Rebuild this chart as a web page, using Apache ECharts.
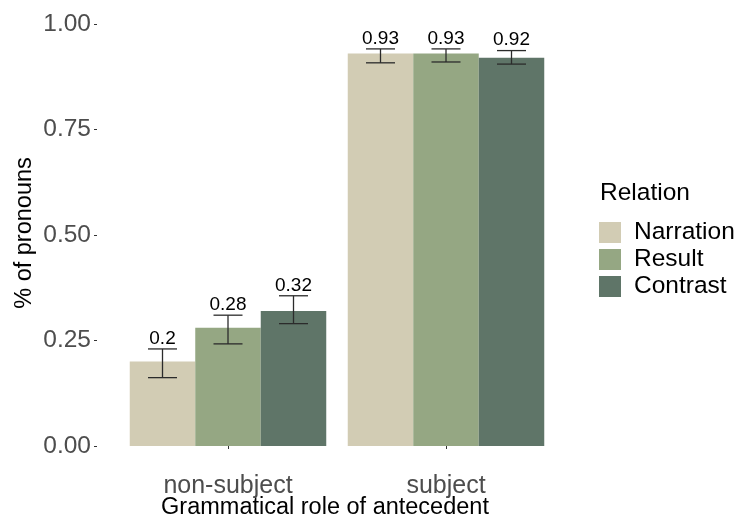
<!DOCTYPE html>
<html>
<head>
<meta charset="utf-8">
<script src="https://cdn.jsdelivr.net/npm/echarts@6/dist/echarts.min.js"></script>
<style>
  html, body { margin: 0; padding: 0; background: #ffffff; }
  #chart { width: 743px; height: 521px; }
</style>
</head>
<body>
<div id="chart"></div>
<script>
// Grammatical role of the antecedent on the x axis
const categories = ['non-subject', 'subject'];
const relations = ['Narration', 'Result', 'Contrast'];
const relationColors = ['#d2ccb4', '#95a783', '#5f7568'];

// Proportion of pronouns per relation (one value per category)
const narration = [0.2, 0.93];
const result = [0.28, 0.93];
const contrast = [0.32, 0.92];

// Error bar bounds per relation
const narrationLow = [0.162, 0.908];
const narrationHigh = [0.230, 0.941];
const resultLow = [0.242, 0.910];
const resultHigh = [0.310, 0.941];
const contrastLow = [0.290, 0.905];
const contrastHigh = [0.356, 0.937];

const yTicks = [0, 0.25, 0.5, 0.75, 1];

const values = [narration, result, contrast];
const lows = [narrationLow, resultLow, contrastLow];
const highs = [narrationHigh, resultHigh, contrastHigh];

const FONT = '"Liberation Sans", Arial, sans-serif';
const BAR_W = 65.5;

// Rows: [categoryIndex, relationIndex, low, high, value]
const errorRows = [];
categories.forEach(function (c, ci) {
  relations.forEach(function (r, ri) {
    errorRows.push([ci, ri, lows[ri][ci], highs[ri][ci], values[ri][ci]]);
  });
});

function fmt(v) {
  return String(Math.round(v * 100) / 100);
}

const chart = echarts.init(document.getElementById('chart'), null, { renderer: 'canvas' });

const barSeries = relations.map(function (name, ri) {
  return {
    name: name,
    type: 'bar',
    data: values[ri],
    barWidth: BAR_W,
    barGap: '0%',
    itemStyle: { color: relationColors[ri] },
    emphasis: { disabled: true },
    z: 2
  };
});

const errorSeries = {
  type: 'custom',
  data: errorRows,
  encode: { x: 0, y: [2, 3] },
  clip: false,
  z: 5,
  silent: true,
  renderItem: function (params, api) {
    const ci = api.value(0);
    const ri = api.value(1);
    const lo = api.value(2);
    const hi = api.value(3);
    const v = api.value(4);
    const center = api.coord([ci, 0])[0] + (ri - 1) * BAR_W;
    const yLo = api.coord([ci, lo])[1];
    const yHi = api.coord([ci, hi])[1];
    const half = 14.5;
    const lineStyle = { stroke: '#2b2b2b', lineWidth: 1.3 };
    return {
      type: 'group',
      children: [
        { type: 'line', shape: { x1: center, y1: yLo, x2: center, y2: yHi }, style: lineStyle },
        { type: 'line', shape: { x1: center - half, y1: yLo, x2: center + half, y2: yLo }, style: lineStyle },
        { type: 'line', shape: { x1: center - half, y1: yHi, x2: center + half, y2: yHi }, style: lineStyle },
        {
          type: 'text',
          style: {
            x: center,
            y: yHi - 1,
            text: fmt(v),
            fill: '#000000',
            font: '19px ' + FONT,
            align: 'center',
            verticalAlign: 'bottom'
          }
        }
      ]
    };
  }
};

chart.setOption({
  backgroundColor: '#ffffff',
  animation: false,
  textStyle: { fontFamily: FONT },
  grid: { left: 119, width: 436, top: 24, height: 422, containLabel: false },
  xAxis: {
    type: 'category',
    data: categories,
    offset: 21,
    axisLine: { show: false },
    axisTick: { show: true, length: 3, alignWithLabel: true, lineStyle: { color: '#333333' } },
    axisLabel: { color: '#4d4d4d', fontSize: 25, margin: 7, fontFamily: FONT },
    splitLine: { show: false }
  },
  yAxis: {
    type: 'value',
    min: yTicks[0],
    max: yTicks[yTicks.length - 1],
    interval: 0.25,
    offset: 22,
    axisLine: { show: false },
    axisTick: { show: true, length: 3, lineStyle: { color: '#333333' } },
    axisLabel: {
      color: '#4d4d4d', fontSize: 24.5, margin: 6, fontFamily: FONT,
      formatter: function (v) { return v.toFixed(2); }
    },
    splitLine: { show: false }
  },
  legend: {
    data: relations,
    orient: 'vertical',
    left: 599,
    top: 220,
    padding: 0,
    itemWidth: 22,
    itemHeight: 21,
    itemGap: 2,
    icon: 'rect',
    selectedMode: false,
    textStyle: { fontSize: 24.5, color: '#000000', lineHeight: 21, padding: [0, 0, 0, 8], fontFamily: FONT }
  },
  graphic: [
    {
      type: 'text',
      left: 600,
      top: 181,
      style: { text: 'Relation', font: '24.5px ' + FONT, fill: '#000000' }
    },
    {
      type: 'text',
      x: 325,
      y: 520,
      style: {
        text: 'Grammatical role of antecedent',
        font: '23.5px ' + FONT,
        fill: '#000000',
        align: 'center',
        verticalAlign: 'bottom'
      }
    },
    {
      type: 'text',
      x: 25,
      y: 233,
      rotation: Math.PI / 2,
      style: {
        text: '% of pronouns',
        font: '23.5px ' + FONT,
        fill: '#000000',
        align: 'center',
        verticalAlign: 'middle'
      }
    }
  ],
  series: barSeries.concat([errorSeries])
});
</script>
</body>
</html>
